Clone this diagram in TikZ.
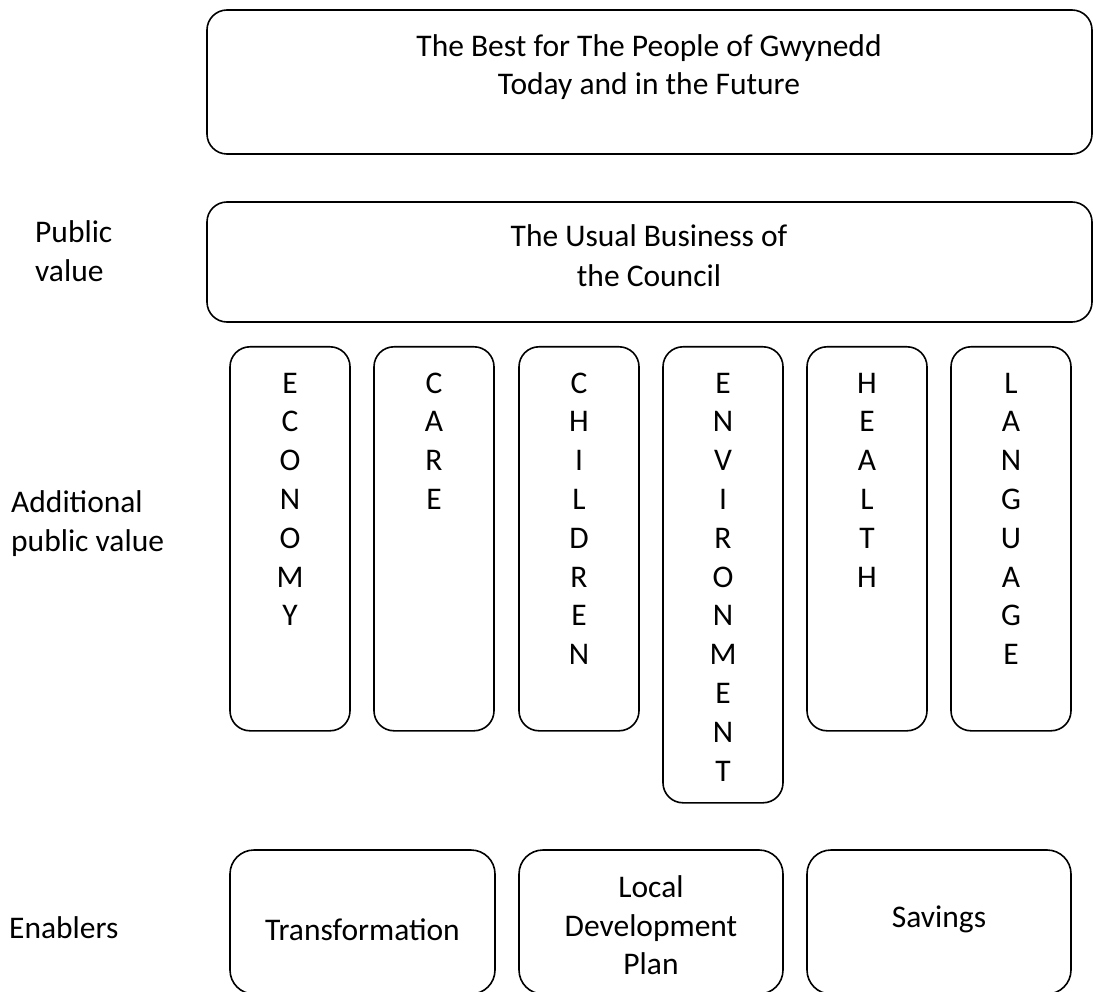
\documentclass[tikz,border=0pt]{standalone}
\usepackage{fontspec}
\setmainfont{Carlito}
\begin{document}
\begin{tikzpicture}[x=1pt,y=-1pt,
  panel/.style={draw, line width=1.6pt, rounded corners=20pt, inner sep=0pt},
  txt/.style={font=\fontsize{31.5}{38.8}\selectfont, inner sep=0pt, anchor=base},
  sidetxt/.style={txt, anchor=base west},
]
\useasboundingbox (0,0) rectangle (1093,992);

% top level boxes
\node[panel, minimum width=885pt, minimum height=144pt] (goal) at (649.5,82) {};
\node[panel, minimum width=885pt, minimum height=120pt] (usual) at (649.5,262) {};
\node[txt] (goal1) at (649,57) {The Best for The People of Gwynedd};
\node[txt] (goal2) at (649,95) {Today and in the Future};
\node[txt] (usual1) at (649,247) {The Usual Business of};
\node[txt] (usual2) at (649,287) {the Council};

% side labels
\node[sidetxt] (pv1) at (35,243) {Public};
\node[sidetxt] (pv2) at (35,282) {value};
\node[sidetxt] (apv1) at (11,512) {Additional};
\node[sidetxt] (apv2) at (11,551) {public value};
\node[sidetxt] (enab) at (9,938) {Enablers};

% themes written as vertical columns of letters
\foreach \cx/\h/\name/\word in {290/384/economy/{E,C,O,N,O,M,Y},
                                434/384/care/{C,A,R,E},
                                579/384/children/{C,H,I,L,D,R,E,N},
                                723/456/environment/{E,N,V,I,R,O,N,M,E,N,T},
                                867/384/health/{H,E,A,L,T,H},
                                1011/384/language/{L,A,N,G,U,A,G,E}} {
  \node[panel, minimum width=120pt, minimum height=\h pt, anchor=north] (\name) at (\cx,346) {};
  \foreach \l [count=\i] in \word {
    \node[txt] (\name-\i) at (\cx,{393+38.8*(\i-1)}) {\l};
  }
}

% enablers
\node[panel, rounded corners=24pt, minimum width=265pt, minimum height=144pt] (transf) at (362.5,922) {};
\node[panel, rounded corners=24pt, minimum width=264pt, minimum height=144pt] (ldp) at (651,922) {};
\node[panel, rounded corners=24pt, minimum width=264pt, minimum height=144pt] (sav) at (939,922) {};
\node[txt] (transf-t) at (362.5,940) {Transformation};
\node[txt] (ldp1) at (651,897) {Local};
\node[txt] (ldp2) at (651,936) {Development};
\node[txt] (ldp3) at (651,974) {Plan};
\node[txt] (sav-t) at (939,927) {Savings};
\end{tikzpicture}
\end{document}
